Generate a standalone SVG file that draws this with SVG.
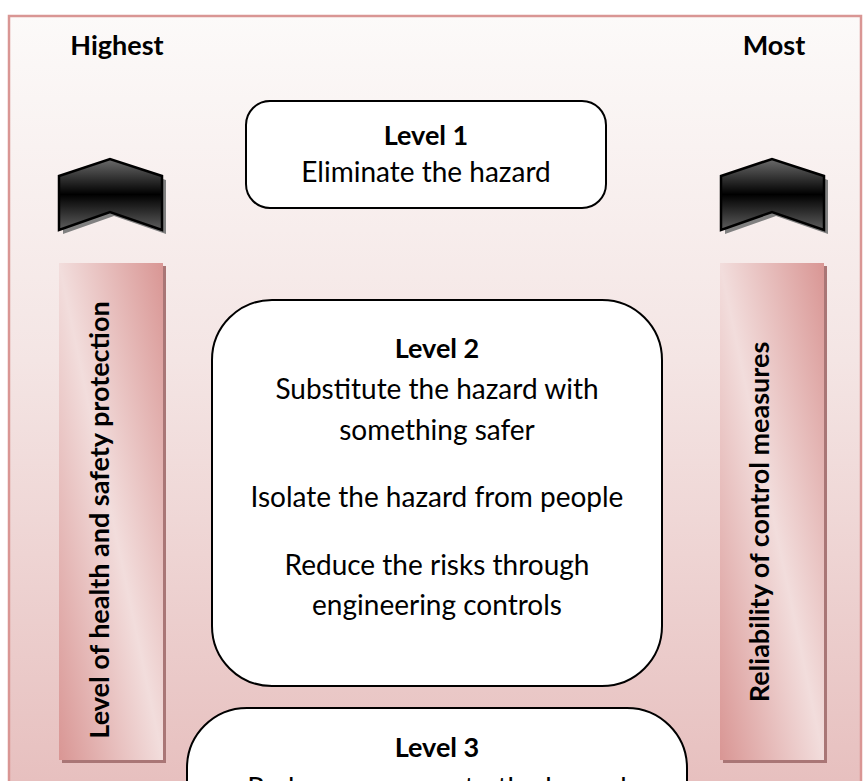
<svg xmlns="http://www.w3.org/2000/svg" width="863" height="781" viewBox="0 0 863 781">
  <defs>
    <linearGradient id="pageFill" gradientUnits="userSpaceOnUse" x1="0" y1="16" x2="0" y2="781">
      <stop offset="0" stop-color="#fcfaf9"/>
      <stop offset="0.45" stop-color="#f4e5e4"/>
      <stop offset="1" stop-color="#e7c0bf"/>
    </linearGradient>
    <linearGradient id="barFill" x1="1" y1="0" x2="0" y2="1">
      <stop offset="0" stop-color="#d99694"/>
      <stop offset="0.5" stop-color="#f2dddc"/>
      <stop offset="1" stop-color="#d99694"/>
    </linearGradient>
    <linearGradient id="chevronFill" x1="0" y1="0" x2="0" y2="1">
      <stop offset="0" stop-color="#6b6b6b"/>
      <stop offset="0.5" stop-color="#000000"/>
      <stop offset="1" stop-color="#5e5e5e"/>
    </linearGradient>
    <path id="chevron" d="M0,17 L51,0 L103,17 L103,71 L51,53 L0,71 Z"/>
  </defs>
  <style>
    .label { font-family: Lato, "Liberation Sans", sans-serif; fill: #000; }
    .bold { font-weight: bold; font-size: 27px; }
    .body { font-size: 28px; }
    .box { fill: #ffffff; stroke: #000000; stroke-width: 2; }
    .bar { fill: url(#barFill); }
    .barShadow { fill: #a97676; }
    .chev { fill: url(#chevronFill); stroke: #000; stroke-width: 2.5; stroke-linejoin: miter; }
    .chevShadow { fill: #808080; }
  </style>

  <!-- page frame -->
  <rect x="9" y="16" width="852" height="800" fill="url(#pageFill)" stroke="#d99694" stroke-width="2.5"/>

  <!-- column headings -->
  <g id="heading-highest">
    <text class="label bold" x="117" y="55" text-anchor="middle">Highest</text>
  </g>
  <g id="heading-most">
    <text class="label bold" x="774" y="55" text-anchor="middle">Most</text>
  </g>

  <!-- up chevrons -->
  <g id="chevron-left">
    <use href="#chevron" class="chevShadow" transform="translate(63,163)"/>
    <use href="#chevron" class="chev" transform="translate(59,159)"/>
  </g>
  <g id="chevron-right">
    <use href="#chevron" class="chevShadow" transform="translate(725,163)"/>
    <use href="#chevron" class="chev" transform="translate(721,159)"/>
  </g>

  <!-- side bars -->
  <g id="bar-protection">
    <rect class="barShadow" x="62" y="266" width="104" height="497"/>
    <rect class="bar" x="59" y="263" width="104" height="497"/>
    <text class="label bold" transform="translate(109,520) rotate(-90)" text-anchor="middle">Level of health and safety protection</text>
  </g>
  <g id="bar-reliability">
    <rect class="barShadow" x="723" y="266" width="104" height="497"/>
    <rect class="bar" x="720" y="263" width="104" height="497"/>
    <text class="label bold" transform="translate(769,522) rotate(-90)" text-anchor="middle">Reliability of control measures</text>
  </g>

  <!-- control levels -->
  <g id="level-1">
    <rect class="box" x="246" y="101" width="360" height="107" rx="24" ry="24"/>
    <text class="label bold" x="426" y="145" text-anchor="middle">Level 1</text>
    <text class="label body" x="426" y="182" text-anchor="middle">Eliminate the hazard</text>
  </g>

  <g id="level-2">
    <rect class="box" x="212" y="300" width="450" height="386" rx="60" ry="60"/>
    <text class="label bold" x="437" y="358" text-anchor="middle">Level 2</text>
    <text class="label body" x="437" y="399" text-anchor="middle">Substitute the hazard with</text>
    <text class="label body" x="437" y="440" text-anchor="middle">something safer</text>
    <text class="label body" x="437" y="507" text-anchor="middle">Isolate the hazard from people</text>
    <text class="label body" x="437" y="575" text-anchor="middle">Reduce the risks through</text>
    <text class="label body" x="437" y="615" text-anchor="middle">engineering controls</text>
  </g>

  <g id="level-3">
    <rect class="box" x="187" y="708" width="500" height="200" rx="60" ry="60"/>
    <text class="label bold" x="437" y="757" text-anchor="middle">Level 3</text>
    <text class="label body" x="437" y="798" text-anchor="middle">Reduce exposure to the hazard</text>
  </g>
</svg>
